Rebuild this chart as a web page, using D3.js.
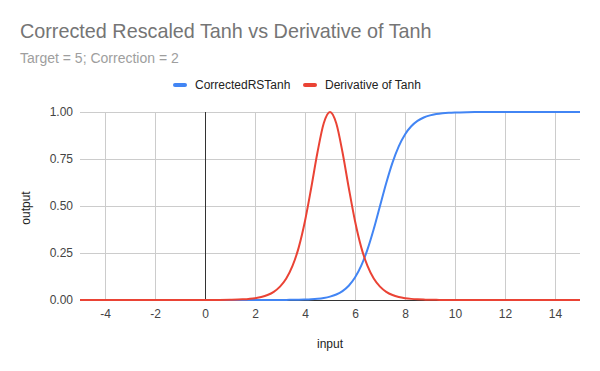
<!DOCTYPE html>
<html>
<head>
<meta charset="utf-8">
<script src="https://cdn.jsdelivr.net/npm/d3@7"></script>
<style>
  body { margin: 0; background: #fff; }
  text { font-family: Arial, "Liberation Sans", sans-serif; }
  .grid line, .zero { shape-rendering: crispEdges; }
</style>
</head>
<body>
<div id="chart"></div>
<script>
// chart data
var inputs = [-5, -4, -3, -2, -1, 0, 0.5, 1, 1.5, 2, 2.25, 2.5, 2.75, 3, 3.25, 3.5, 3.75, 4, 4.25, 4.5, 4.75,
  5, 5.25, 5.5, 5.75, 6, 6.25, 6.5, 6.75, 7, 7.25, 7.5, 7.75, 8, 8.25, 8.5, 8.75, 9, 9.25, 9.5, 9.75,
  10, 10.5, 11, 11.5, 12, 13, 14, 15];

var correctedRSTanh = [0, 0, 0, 0, 0, 0, 0, 0, 0, 0, 0.0001, 0.0001, 0.0002, 0.0003, 0.0006, 0.0009, 0.0015,
  0.0025, 0.0041, 0.0067, 0.0110, 0.0180, 0.0293, 0.0474, 0.0759, 0.1192, 0.1824, 0.2689, 0.3775,
  0.5, 0.6225, 0.7311, 0.8176, 0.8808, 0.9241, 0.9526, 0.9707, 0.9820, 0.9890, 0.9933, 0.9959,
  0.9975, 0.9991, 0.9997, 0.9999, 1, 1, 1, 1];

var derivTanh = [0, 0, 0, 0, 0, 0.0002, 0.0005, 0.0013, 0.0036, 0.0099, 0.0162, 0.0266, 0.0435, 0.071,
  0.114, 0.181, 0.280, 0.420, 0.597, 0.786, 0.940, 1, 0.940, 0.786, 0.597, 0.420, 0.280, 0.181, 0.114,
  0.071, 0.0435, 0.0266, 0.0162, 0.0099, 0.0060, 0.0036, 0.0022, 0.0013, 0.0008, 0.0005, 0.0003,
  0.0002, 0.0001, 0, 0, 0, 0, 0, 0];

var xTicks = [-4, -2, 0, 2, 4, 6, 8, 10, 12, 14];
var yTicks = [0, 0.25, 0.5, 0.75, 1];

var seriesNames = ["CorrectedRSTanh", "Derivative of Tanh"];
var seriesColors = ["#4285f4", "#ea4335"];

var svgWidth = 600;
var svgHeight = 371;

var margin = { top: 112, right: 20, bottom: 71, left: 80 };
var chartWidth = svgWidth - margin.left - margin.right;
var chartHeight = svgHeight - margin.top - margin.bottom;

var svg = d3.select("#chart")
  .append("svg")
  .attr("width", svgWidth)
  .attr("height", svgHeight);

// title + subtitle
svg.append("text")
  .attr("x", 20).attr("y", 38)
  .attr("font-size", 19.8)
  .attr("fill", "#757575")
  .text("Corrected Rescaled Tanh vs Derivative of Tanh");

svg.append("text")
  .attr("x", 20).attr("y", 63)
  .attr("font-size", 14)
  .attr("fill", "#9e9e9e")
  .text("Target = 5; Correction = 2");

var chartGroup = svg.append("g")
  .attr("transform", `translate(${margin.left}, ${margin.top})`);

var xScale = d3.scaleLinear().domain([-5, 15]).range([0, chartWidth]);
var yScale = d3.scaleLinear().domain([0, 1]).range([chartHeight, 0]);

// gridlines
chartGroup.append("g")
  .attr("class", "grid")
  .selectAll("line")
  .data(xTicks.filter(d => d !== 0))
  .enter()
  .append("line")
  .attr("x1", d => xScale(d)).attr("x2", d => xScale(d))
  .attr("y1", 0).attr("y2", chartHeight)
  .attr("stroke", "#cccccc");

chartGroup.append("g")
  .attr("class", "grid")
  .selectAll("line")
  .data(yTicks.filter(d => d !== 0))
  .enter()
  .append("line")
  .attr("x1", 0).attr("x2", chartWidth)
  .attr("y1", d => yScale(d)).attr("y2", d => yScale(d))
  .attr("stroke", "#cccccc");

// zero line for x = 0
chartGroup.append("line")
  .attr("class", "zero")
  .attr("x1", xScale(0)).attr("x2", xScale(0))
  .attr("y1", 0).attr("y2", chartHeight)
  .attr("stroke", "#333333");

// axes (labels only)
var bottomAxis = d3.axisBottom(xScale).tickValues(xTicks).tickSize(0).tickPadding(9)
  .tickFormat(d => String(d));
var leftAxis = d3.axisLeft(yScale).tickValues(yTicks).tickSize(0).tickPadding(7)
  .tickFormat(d3.format(".2f"));

var xAxisG = chartGroup.append("g")
  .attr("transform", `translate(0, ${chartHeight})`)
  .call(bottomAxis);
var yAxisG = chartGroup.append("g").call(leftAxis);

[xAxisG, yAxisG].forEach(function(g) {
  g.attr("font-family", null);
  g.select(".domain").remove();
  g.selectAll("text")
    .attr("font-size", 12)
    .attr("fill", "#444444");
});

// lines
var rows = inputs.map(function(x, i) {
  return { x: x, a: correctedRSTanh[i], b: derivTanh[i] };
});

var lineA = d3.line().x(d => xScale(d.x)).y(d => yScale(d.a)).curve(d3.curveMonotoneX);
var lineB = d3.line().x(d => xScale(d.x)).y(d => yScale(d.b)).curve(d3.curveMonotoneX);

chartGroup.append("line")
  .attr("class", "zero")
  .attr("x1", 0).attr("x2", chartWidth)
  .attr("y1", chartHeight).attr("y2", chartHeight)
  .attr("stroke", "#333333");

chartGroup.append("path")
  .datum(rows)
  .attr("d", lineA)
  .attr("fill", "none")
  .attr("stroke", seriesColors[0])
  .attr("stroke-width", 2);

chartGroup.append("path")
  .datum(rows)
  .attr("d", lineB)
  .attr("fill", "none")
  .attr("stroke", seriesColors[1])
  .attr("stroke-width", 2);

// axis titles
svg.append("text")
  .attr("transform", "rotate(-90)")
  .attr("x", -(margin.top + chartHeight / 2) - 2)
  .attr("y", 30)
  .attr("text-anchor", "middle")
  .attr("font-size", 12)
  .attr("fill", "#222222")
  .text("output");

svg.append("text")
  .attr("x", margin.left + chartWidth / 2)
  .attr("y", 348)
  .attr("text-anchor", "middle")
  .attr("font-size", 12)
  .attr("fill", "#222222")
  .text("input");

// legend
var legendX = [174, 304];
var legend = svg.append("g");
seriesNames.forEach(function(name, i) {
  legend.append("line")
    .attr("x1", legendX[i] + 1).attr("x2", legendX[i] + 11)
    .attr("y1", 85).attr("y2", 85)
    .attr("stroke", seriesColors[i])
    .attr("stroke-width", 4)
    .attr("stroke-linecap", "round");
  legend.append("text")
    .attr("x", legendX[i] + 21)
    .attr("y", 89)
    .attr("font-size", 12)
    .attr("fill", "#222222")
    .text(name);
});
</script>
</body>
</html>
